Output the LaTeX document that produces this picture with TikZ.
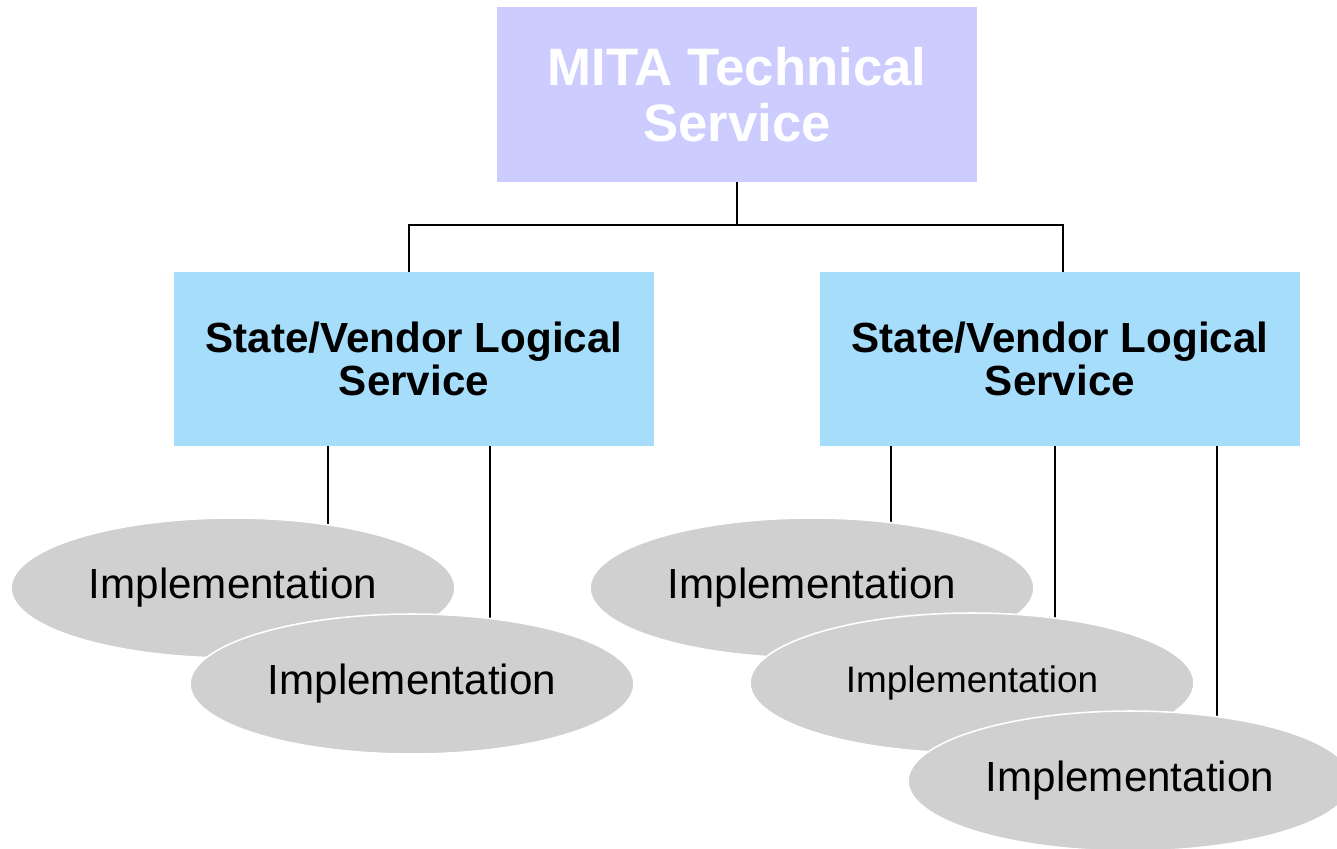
\documentclass[tikz,border=0pt]{standalone}
\usepackage{fontspec}
\setmainfont{Liberation Sans}
\usetikzlibrary{shapes.geometric,backgrounds}

\definecolor{mitablue}{RGB}{204,204,255}
\definecolor{svcblue}{RGB}{166,221,251}
\definecolor{implgray}{RGB}{208,208,208}

\begin{document}
\begin{tikzpicture}[x=0.02cm, y=-0.02cm]
    \tikzstyle{top box}=[
        fill = mitablue,
        text = white,
        minimum width = 9.6cm,
        minimum height = 3.5cm,
        inner sep = 0pt,
        align = center,
        font = \fontsize{30}{32}\selectfont\bfseries
    ]
    \tikzstyle{service box}=[
        fill = svcblue,
        text = black,
        minimum width = 9.6cm,
        minimum height = 3.48cm,
        inner sep = 0pt,
        align = center,
        font = \fontsize{24}{24.5}\selectfont\bfseries
    ]
    \tikzstyle{impl}=[
        ellipse,
        draw = white,
        line width = 0.9pt,
        fill = implgray,
        minimum width = 8.88cm,
        minimum height = 2.8cm,
        inner sep = 0pt,
        font = \fontsize{24}{26}\selectfont
    ]
    \tikzstyle{link}=[
        draw = black,
        line width = 1.4pt
    ]

    \useasboundingbox (0,0) rectangle (1337,848);

	\node[top box]     (mita) at (737, 94.5)  {MITA Technical\\Service};
	\node[service box] (lsvc) at (414, 359)   {State/Vendor Logical\\Service};
	\node[service box] (rsvc) at (1060, 359)  {State/Vendor Logical\\Service};

	\node[impl] (limpa) at (233, 588)  {Implementation};
	\node[impl] (limpb) at (412, 684)  {Implementation};
	\node[impl] (rimpa) at (812, 588)  {Implementation};
	\node[impl, font=\fontsize{21}{23}\selectfont] (rimpb) at (972, 683) {Implementation};
	\node[impl] (rimpc) at (1130, 781) {Implementation};

	\begin{scope}[on background layer]
	\draw[link] (mita.south) -- (mita.south |- 0,225) -| (lsvc.north -| 409,0);
	\draw[link] (mita.south |- 0,225) -| (rsvc.north -| 1063,0);
	\draw[link] (lsvc.south -| 328,0) -- (limpa.center -| 328,0);
	\draw[link] (lsvc.south -| 490,0) -- (limpb.center -| 490,0);
	\draw[link] (rsvc.south -| 891,0) -- (rimpa.center -| 891,0);
	\draw[link] (rsvc.south -| 1055,0) -- (rimpb.center -| 1055,0);
	\draw[link] (rsvc.south -| 1217,0) -- (rimpc.center -| 1217,0);
	\end{scope}

\end{tikzpicture}
\end{document}
